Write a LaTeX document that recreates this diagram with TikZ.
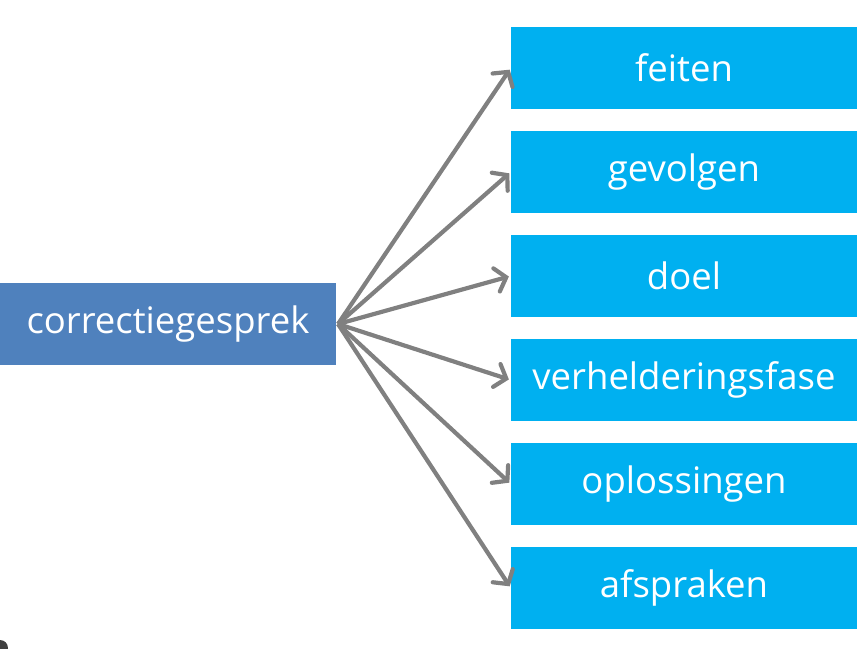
\documentclass[tikz,border=0pt]{standalone}
\usepackage{fontspec}
\setmainfont{Open Sans}
\usetikzlibrary{arrows.meta}
\definecolor{leftblue}{HTML}{4F81BD}
\definecolor{rightblue}{HTML}{00B0F0}
\definecolor{arrowgray}{HTML}{808080}
\tikzset{
  rbox/.style={fill=rightblue, text=white, minimum width=346pt, minimum height=82pt, inner sep=0pt, font=\fontsize{36.5}{42}\selectfont},
  lbox/.style={fill=leftblue, text=white, minimum width=336pt, minimum height=82pt, inner sep=0pt, font=\fontsize{36.5}{42}\selectfont},
  conn/.style={draw=arrowgray, line width=4.2pt, -{Straight Barb[length=10pt,width=24pt,line cap=round]}, shorten >=2pt}
}
\begin{document}
\begin{tikzpicture}[x=1pt,y=-1pt]
\useasboundingbox (0,0) rectangle (864,648);
\node[lbox] (c) at (168,324) {correctiegesprek};
\node[rbox] (f) at (684,68) {feiten};
\node[rbox] (g) at (684,172) {gevolgen};
\node[rbox] (d) at (684,276) {doel};
\node[rbox] (v) at (684,380) {verhelderingsfase};
\node[rbox] (o) at (684,484) {oplossingen};
\node[rbox] (a) at (684,588) {afspraken};
\coordinate (src) at (338,324);
\foreach \t in {f,g,d,v,o,a} {
  \draw[conn] (src) -- (\t.west);
}
\fill[black!75] (0,648) circle (8pt);
\end{tikzpicture}
\end{document}
